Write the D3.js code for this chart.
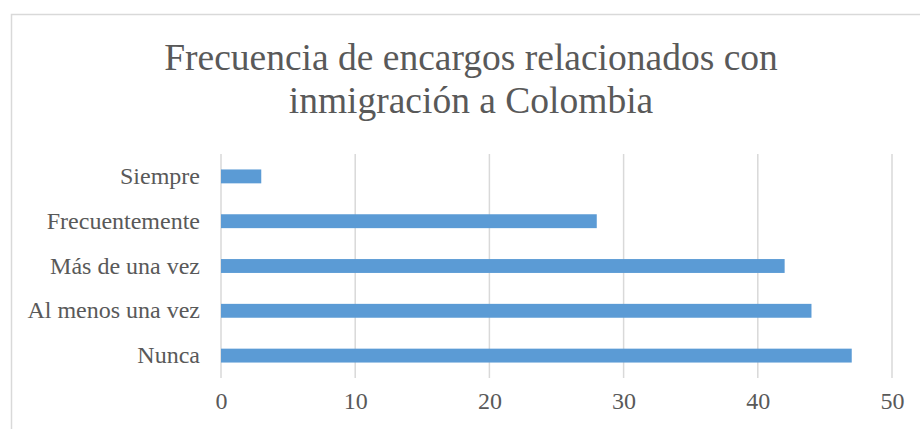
<!DOCTYPE html>
<html>
<head>
<meta charset="utf-8">
<script src="https://cdn.jsdelivr.net/npm/d3@7"></script>
<style>
  html, body { margin: 0; padding: 0; background: #ffffff; }
  svg { display: block; }
</style>
</head>
<body>
<svg id="chart" width="920" height="429"></svg>
<script>
// Response categories (top to bottom) and their counts
const categories = ["Siempre", "Frecuentemente", "Más de una vez", "Al menos una vez", "Nunca"];
const counts = [3, 28, 42, 44, 47];
const xTicks = [0, 10, 20, 30, 40, 50];
const titleLines = ["Frecuencia de encargos relacionados con", "inmigración a Colombia"];

const FONT = "'Liberation Serif'";
const INK = "#595959";
const GRID = "#d9d9d9";

const data = categories.map((c, i) => ({ category: c, value: counts[i] }));

const svg = d3.select("#chart");

// Chart frame (only the top and left edges fall inside the view)
svg.append("rect")
  .attr("x", 11.5).attr("y", 14.5)
  .attr("width", 940).attr("height", 440)
  .attr("fill", "#ffffff")
  .attr("stroke", GRID).attr("stroke-width", 1.5);

// Title, two centred lines
svg.append("g").selectAll("text")
  .data(titleLines)
  .join("text")
  .attr("x", 471)
  .attr("y", (d, i) => 69.5 + i * 43)
  .attr("text-anchor", "middle")
  .style("font-family", FONT)
  .style("font-size", "37.5px")
  .attr("fill", INK)
  .text(d => d);

const x = d3.scaleLinear().domain([0, 50]).range([221, 892]);
const y = d3.scaleBand()
  .domain(categories)
  .range([154, 378])
  .paddingInner(0.69)
  .paddingOuter(0.345);

// Vertical gridlines
svg.append("g").selectAll("line")
  .data(xTicks)
  .join("line")
  .attr("x1", d => x(d)).attr("x2", d => x(d))
  .attr("y1", 154).attr("y2", 378)
  .attr("stroke", GRID).attr("stroke-width", 1.5);

// Bars
svg.append("g").selectAll("rect")
  .data(data)
  .join("rect")
  .attr("x", x(0))
  .attr("y", d => y(d.category))
  .attr("width", d => x(d.value) - x(0))
  .attr("height", y.bandwidth())
  .attr("fill", "#5b9bd5");

// Category axis
const yAxis = svg.append("g")
  .attr("transform", "translate(221,0)")
  .call(d3.axisLeft(y).tickSize(0).tickPadding(21));
yAxis.attr("font-family", null).attr("font-size", null);
yAxis.select(".domain").remove();
yAxis.selectAll("text")
  .style("font-family", FONT)
  .style("font-size", "24px")
  .attr("fill", INK);

// Value axis
const xAxis = svg.append("g")
  .attr("transform", "translate(0,378)")
  .call(d3.axisBottom(x).tickValues(xTicks).tickSize(0).tickPadding(14).tickFormat(d3.format("d")));
xAxis.attr("font-family", null).attr("font-size", null);
xAxis.select(".domain").remove();
xAxis.selectAll("text")
  .style("font-family", FONT)
  .style("font-size", "24px")
  .attr("fill", INK);
</script>
</body>
</html>
